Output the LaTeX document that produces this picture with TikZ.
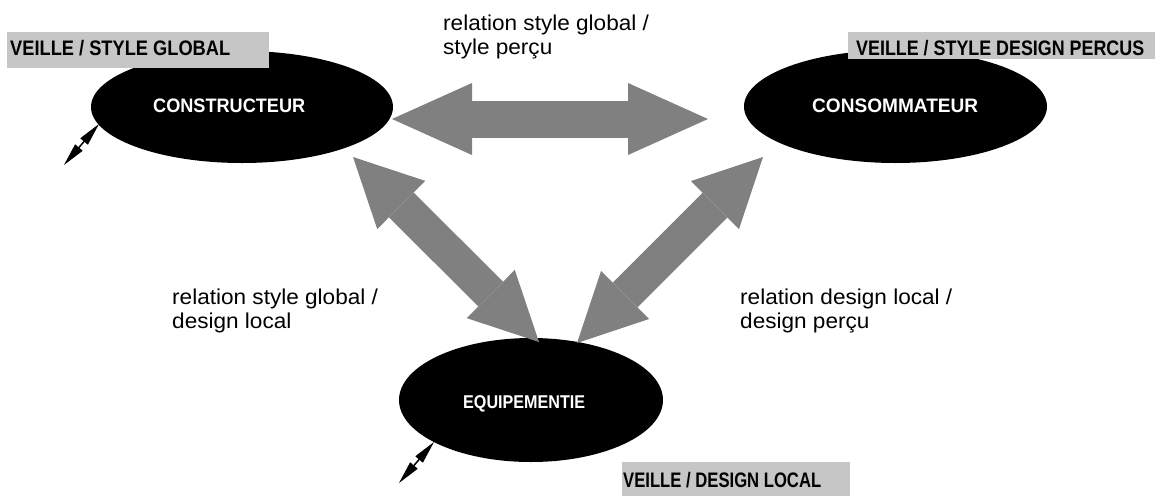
\documentclass[tikz,border=0pt]{standalone}
\usepackage{fontspec}
\usepackage{graphicx}
\setmainfont{Liberation Sans}
\newfontfamily\relfont[FakeStretch=1.05]{Liberation Sans}
\usetikzlibrary{shapes.geometric,arrows.meta}
\definecolor{arrowgray}{HTML}{808080}
\definecolor{boxgray}{HTML}{C6C6C6}
\newcommand{\fitw}[2]{\resizebox{#1}{\height}{#2}}
\tikzset{
  actor/.style={ellipse, fill=black, draw=none, inner sep=0pt},
  actortext/.style={text=white, font=\bfseries\fontsize{19.5}{19.5}\selectfont, inner sep=0pt, anchor=base west},
  veillebox/.style={fill=boxgray, draw=none, inner sep=0pt, anchor=north west},
  veilletext/.style={font=\bfseries\fontsize{21}{21}\selectfont, inner sep=0pt, anchor=base west},
  reltext/.style={font=\relfont\fontsize{21.5}{21.5}\selectfont, inner sep=0pt, anchor=base west},
  dblarrow/.style n args={4}{draw=#1, line width=#2, >={Triangle[length=#3,width=#4,line width=0pt]}, <->}
}
\begin{document}
\begin{tikzpicture}[x=1pt,y=-1pt]
\useasboundingbox (0,0) rectangle (1163,496);
% actors
\node[actor, minimum width=302pt, minimum height=112pt] (cons) at (242,107) {};
\node[actor, minimum width=303pt, minimum height=113pt] (conso) at (895.5,106.5) {};
\node[actor, minimum width=264pt, minimum height=124pt] (equip) at (531,400) {};
\node[actortext] (consT) at (153,112) {\fitw{152pt}{CONSTRUCTEUR}};
\node[actortext] (consoT) at (812,112) {\fitw{166pt}{CONSOMMATEUR}};
\node[actortext, font=\bfseries\fontsize{18.5}{18.5}\selectfont] (equipT) at (463,408) {\fitw{122pt}{EQUIPEMENTIE}};
% veille boxes
\node[veillebox, minimum width=262pt, minimum height=36pt] (vb1) at (7,32) {};
\node[veillebox, minimum width=307pt, minimum height=27pt] (vb2) at (848,32) {};
\node[veillebox, minimum width=228pt, minimum height=34pt] (vb3) at (622,462) {};
\node[veilletext] (vt1) at (10,55) {\fitw{220pt}{VEILLE / STYLE GLOBAL}};
\node[veilletext] (vt2) at (856,55) {\fitw{288pt}{VEILLE / STYLE DESIGN PERCUS}};
\node[veilletext] (vt3) at (623,487) {\fitw{198pt}{VEILLE / DESIGN LOCAL}};
% big arrows
\coordinate (h1) at (392,119);
\coordinate (h2) at (708,119);
\coordinate (l1) at (353,157);
\coordinate (l2) at (539,342);
\coordinate (r1) at (763,157);
\coordinate (r2) at (577,343);
\draw[dblarrow={arrowgray}{37pt}{80pt}{72pt}] (h1) -- (h2);
\draw[dblarrow={arrowgray}{35pt}{68pt}{68pt}] (l1) -- (l2);
\draw[dblarrow={arrowgray}{35pt}{68pt}{68pt}] (r1) -- (r2);
% small veille arrows
\coordinate (s1a) at (99,124);
\coordinate (s1b) at (64,165);
\coordinate (s2a) at (434,442);
\coordinate (s2b) at (399,483);
\draw[dblarrow={black}{1.5pt}{23pt}{10pt}] (s1a) -- (s1b);
\draw[dblarrow={black}{1.5pt}{23pt}{10pt}] (s2a) -- (s2b);
% relation labels
\node[reltext] (ra1) at (443,30) {relation style global /};
\node[reltext] (ra2) at (443,54) {style perçu};
\node[reltext] (rb1) at (172,304) {relation style global /};
\node[reltext] (rb2) at (172,328) {design local};
\node[reltext] (rc1) at (740,304) {relation design local /};
\node[reltext] (rc2) at (740,328) {design perçu};
\end{tikzpicture}
\end{document}
